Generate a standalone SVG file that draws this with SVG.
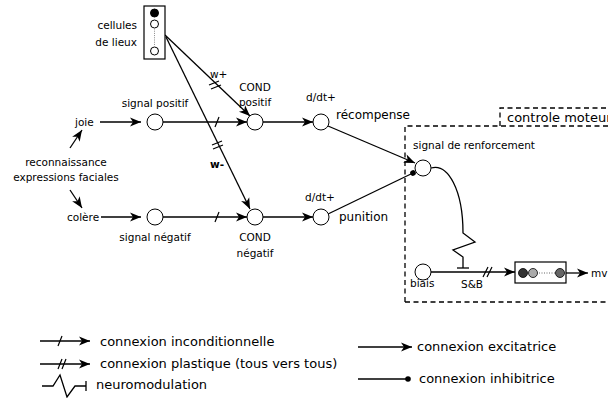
<svg xmlns="http://www.w3.org/2000/svg" width="608" height="398" viewBox="0 0 608 398">
<defs>
<style>
text{font-family:"DejaVu Sans","Liberation Sans",sans-serif;fill:#000}
.s{font-size:10.5px}
.m{font-size:12px}
.l{font-size:13px}
.c{text-anchor:middle}
.r{text-anchor:end}
.ln{stroke:#000;stroke-width:1.3;fill:none}
.tk{stroke:#000;stroke-width:1.2;fill:none}
.nd{fill:#fff;stroke:#000;stroke-width:1}
.dash{stroke:#000;stroke-width:1.3;fill:none;stroke-dasharray:5,3.5}
</style>
<marker id="arr" viewBox="-12 -5 13 10" refX="0" refY="0" markerWidth="13" markerHeight="10" markerUnits="userSpaceOnUse" orient="auto"><path d="M0,0 L-11,-4.5 L-8,0 L-11,4.5 Z" fill="#000"/></marker>
<marker id="dot" viewBox="-4 -4 8 8" refX="0" refY="0" markerWidth="8" markerHeight="8" markerUnits="userSpaceOnUse" orient="auto"><circle cx="0" cy="0" r="2.8" fill="#000"/></marker>
</defs>
<rect width="608" height="398" fill="#fff"/>

<g id="controle-moteur">
<path class="dash" d="M405,302 V126 H612"/>
<path class="dash" d="M405,302 H612"/>
<path class="dash" d="M500,126 V108 H612"/>
<text class="l" x="507" y="122">controle moteur</text>
</g>

<g id="connectors">
<path class="ln" d="M100,122 H141" marker-end="url(#arr)"/>
<path class="ln" d="M70,148 L82,130" marker-end="url(#arr)"/>
<path class="ln" d="M70,190 L82,208" marker-end="url(#arr)"/>
<path class="ln" d="M101,217 H141" marker-end="url(#arr)"/>
<path class="ln" d="M163,122 H247" marker-end="url(#arr)"/>
<path class="tk" d="M215,127 L219,117"/>
<path class="ln" d="M163,217 H247" marker-end="url(#arr)"/>
<path class="tk" d="M215,222 L219,212"/>
<path class="ln" d="M165,35 L250,116" marker-end="url(#arr)"/>
<path class="tk" d="M209,85 L219,81 M211,89 L221,85"/>
<path class="ln" d="M166,37 L250,209" marker-end="url(#arr)"/>
<path class="tk" d="M212,145 L222,141 M213,149 L223,145"/>
<path class="ln" d="M263,122 H313" marker-end="url(#arr)"/>
<path class="ln" d="M263,217 H313" marker-end="url(#arr)"/>
<path class="ln" d="M328,126 L415,163" marker-end="url(#arr)"/>
<path class="ln" d="M328,214 L413,173" marker-end="url(#dot)"/>
<path class="ln" d="M431,168 C448,163 463,190 463,233 L475,242 L453,250 L463,257 V268"/>
<path class="ln" d="M457,268 H469"/>
<path class="ln" d="M431,272 H515" marker-end="url(#arr)"/>
<path class="tk" d="M483,277 L488,267 M487,277 L492,267"/>
<path class="ln" d="M566,273 H588" marker-end="url(#arr)"/>
</g>

<g id="cellules-de-lieux">
<rect x="144" y="6" width="21" height="53" fill="#fff" stroke="#000" stroke-width="1.2"/>
<circle cx="154.5" cy="13" r="4" fill="#000" stroke="#000"/>
<circle cx="154.5" cy="24" r="4" class="nd"/>
<circle cx="154.5" cy="51" r="4" class="nd"/>
<path d="M154.5,28.5 V46.5" stroke="#888" stroke-width="1" stroke-dasharray="1,1.2"/>
<text class="s r" x="137" y="29">cellules</text>
<text class="s r" x="137" y="46">de lieux</text>
</g>

<g id="joie"><text class="s" x="75" y="126">joie</text></g>
<g id="reconnaissance">
<text class="s c" x="66" y="166">reconnaissance</text>
<text class="s c" x="66" y="181">expressions faciales</text>
</g>
<g id="colere"><text class="s" x="67" y="221">colère</text></g>

<g id="signal-positif">
<circle cx="155" cy="122" r="8" class="nd"/>
<text class="s c" x="155" y="107">signal positif</text>
</g>
<g id="signal-negatif">
<circle cx="155" cy="217" r="8" class="nd"/>
<text class="s c" x="155" y="241">signal négatif</text>
</g>

<g id="cond-positif">
<circle cx="255" cy="122" r="8" class="nd"/>
<text class="s c" x="255" y="91">COND</text>
<text class="s c" x="255" y="106">positif</text>
<text class="s" x="210" y="78">w+</text>
</g>
<g id="cond-negatif">
<circle cx="255" cy="217" r="8" class="nd"/>
<text class="s c" x="255" y="241">COND</text>
<text class="s c" x="255" y="257">négatif</text>
<text class="s" x="210" y="168" font-weight="bold">w-</text>
</g>

<g id="recompense">
<circle cx="321" cy="122" r="8" class="nd"/>
<text class="s c" x="321" y="101">d/dt+</text>
<text class="m" x="336" y="119">récompense</text>
</g>
<g id="punition">
<circle cx="321" cy="217" r="8" class="nd"/>
<text class="s c" x="320" y="201">d/dt+</text>
<text class="m" x="339" y="221">punition</text>
</g>

<g id="signal-renforcement">
<circle cx="423" cy="168" r="8" class="nd"/>
<text class="s" x="413" y="149">signal de renforcement</text>
</g>

<g id="biais">
<circle cx="423" cy="272" r="8" class="nd"/>
<text class="s" x="410" y="287">biais</text>
<text class="s" x="461" y="288">S&amp;B</text>
</g>

<g id="motor-cells">
<rect x="515" y="262" width="51" height="21" fill="#fff" stroke="#000" stroke-width="1.2"/>
<circle cx="523" cy="273" r="4.5" fill="#333" stroke="#000" stroke-width="0.8"/>
<circle cx="533" cy="273" r="4.5" fill="#aaa" stroke="#000" stroke-width="0.8"/>
<circle cx="560" cy="273" r="4.5" fill="#666" stroke="#000" stroke-width="0.8"/>
<path d="M539,273 H555" stroke="#666" stroke-width="1" stroke-dasharray="1,1.5"/>
<text class="s" x="591" y="277">mv</text>
</g>

<g id="legend">
<path class="ln" d="M40,341 H90" marker-end="url(#arr)"/>
<path class="tk" d="M58,346 L62,336"/>
<text class="l" x="100" y="346">connexion inconditionnelle</text>
<path class="ln" d="M40,364 H90" marker-end="url(#arr)"/>
<path class="tk" d="M58,369 L62,359 M62,369 L66,359"/>
<text class="l" x="100" y="368">connexion plastique (tous vers tous)</text>
<path class="ln" d="M42,386 H53 L60,375 L67,397 L75,386 H86 M86,381 V391"/>
<text class="l" x="96" y="389">neuromodulation</text>
<path class="ln" d="M358,347 H412" marker-end="url(#arr)"/>
<text class="l" x="417" y="351">connexion excitatrice</text>
<path class="ln" d="M358,379 H408" marker-end="url(#dot)"/>
<text class="l" x="419" y="383">connexion inhibitrice</text>
</g>
</svg>
